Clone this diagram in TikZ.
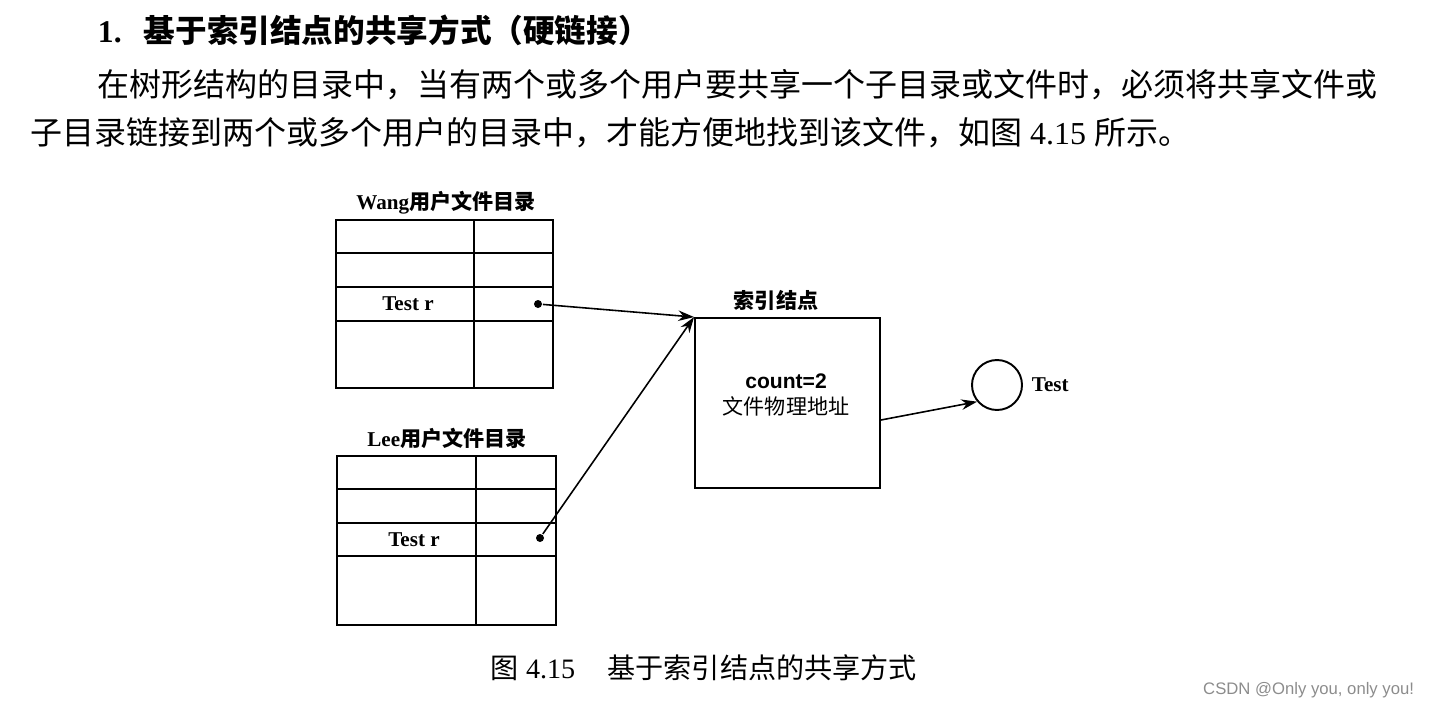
\documentclass[tikz,border=0pt]{standalone}
\usepackage{fontspec}
\setmainfont{Liberation Serif}
\newfontfamily\cjk{Noto Sans CJK SC}
\newfontfamily\latsans{Liberation Sans}
\usetikzlibrary{arrows.meta}

\tikzset{
  txt/.style={inner sep=0pt},
  lbl/.style={inner sep=0pt, font=\fontsize{12}{14}\selectfont},
  dot/.style={circle, fill, inner sep=0pt, minimum size=0.16cm},
  arr/.style={-{Stealth[length=9pt,width=6pt]}, line width=0.9pt},
}

\begin{document}
\begin{tikzpicture}[x=0.02cm, y=-0.02cm, line width=1.1pt]
\useasboundingbox (0,0) rectangle (1430,710);

% text above the figure
\node[txt, anchor=west, font=\bfseries\fontsize{18}{20}\selectfont] (title) at (97,30) {1.\hspace{0.7em}{\cjk 基于索引结点的共享方式（硬链接）}};
\node[txt, anchor=west, font=\fontsize{18.2}{22}\selectfont] (par1) at (97,85) {\cjk 在树形结构的目录中，当有两个或多个用户要共享一个子目录或文件时，必须将共享文件或};
\node[txt, anchor=west, font=\fontsize{18.2}{22}\selectfont] (par2) at (30,133) {{\cjk 子目录链接到两个或多个用户的目录中，才能方便地找到该文件，如图} 4.15 {\cjk 所示。}};

% Wang table
\node[lbl] (wtitle) at (446,203) {\bfseries Wang{\cjk 用户文件目录}};
\draw (336,220) rectangle (553,388);
\draw (474,220) -- (474,388);
\foreach \y in {253,287,321} \draw (336,\y) -- (553,\y);
\node[lbl] (wname) at (408,304) {\bfseries Test r};
\node[dot] (wdot) at (538,304) {};

% Lee table
\node[lbl] (ltitle) at (447,438) {\bfseries Lee{\cjk 用户文件目录}};
\draw (337,456) rectangle (556,625);
\draw (476,456) -- (476,625);
\foreach \y in {489,523,556} \draw (337,\y) -- (556,\y);
\node[lbl] (lname) at (414,540) {\bfseries Test r};
\node[dot] (ldot) at (540,538) {};

% index node
\node[lbl] (idxtitle) at (776,300) {\bfseries\cjk 索引结点};
\node[draw, minimum width=3.7cm, minimum height=3.4cm] (idx) at (787.5,403) {};
\node[lbl, align=center] (idxtext) at (786,395) {{\latsans\bfseries count=2}\\[1pt]{\cjk 文件物理地址}};

% file
\node[draw, circle, minimum size=1cm, inner sep=0pt] (file) at (997,385) {};
\node[lbl, anchor=west] (fname) at (1031,385) {\bfseries Test};

\draw[arr] (wdot) -- (idx.north west);
\draw[arr] (ldot) -- (idx.north west);
\draw[arr] ([yshift=-0.34cm]idx.east) -- (file.220);

% caption
\node[txt, anchor=west, font=\fontsize{16}{18}\selectfont] (cap) at (490,668) {{\cjk 图} 4.15\hspace{1.15em}{\cjk 基于索引结点的共享方式}};
\node[txt, anchor=east, text=black!45, font=\latsans\fontsize{9.5}{11}\selectfont] (mark) at (1415,690) {CSDN @Only you, only you!};
\end{tikzpicture}
\end{document}
